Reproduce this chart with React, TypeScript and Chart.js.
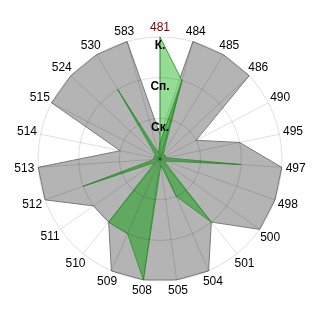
import React, { useEffect, useRef } from 'react';
import { Chart, registerables } from 'chart.js';

Chart.register(...registerables);

const categories = ['481', '484', '485', '486', '490', '495', '497', '498', '500', '501', '504', '505', '508', '509', '510', '511', '512', '513', '514', '515', '524', '530', '583'];
const greyValues = [0.6, 3, 3, 3, 1, 2, 3, 3, 3, 2, 3, 3, 3, 3, 2, 2, 3, 3, 1, 3, 3, 3, 3];
const lightValues = [3, 2, 0, 0, 0, 0, 0, 0, 0, 0, 0, 0, 0, 0, 0, 0, 0, 0, 0, 0, 0, 0, 0];
const darkValues = [0.4, 2, 0.15, 0.15, 0.15, 0.15, 2, 0.15, 0.15, 2, 1, 0.15, 3, 2, 2, 0.15, 2, 0.15, 0.15, 0.15, 0.15, 2, 0.15];
const tickValues = [0, 1, 2, 3];
const tickLabels = ['', 'Ск.', 'Сп.', 'К.'];

const FONT = "'Liberation Sans', Arial, sans-serif";
const LABEL_GAP = 4;

const centeredPointLabels = {
  id: 'centeredPointLabels',
  afterDraw(chart: any) {
    const scale = chart.scales.r;
    const ctx = chart.ctx;
    ctx.save();
    ctx.font = `12px ${FONT}`;
    ctx.textAlign = 'center';
    ctx.textBaseline = 'middle';
    categories.forEach((label, i) => {
      const w = ctx.measureText(label).width;
      const h = 12;
      const p = scale.getPointPosition(i, scale.drawingArea);
      const cx = Math.cos(p.angle);
      const cy = Math.sin(p.angle);
      const half = Math.sqrt((w / 2 * cx) ** 2 + (h / 2 * cy) ** 2);
      const q = scale.getPointPosition(i, scale.drawingArea + LABEL_GAP + half);
      ctx.fillStyle = i === 0 ? '#800000' : '#000';
      ctx.fillText(label, q.x, q.y + 0.5);
    });
    ctx.restore();
  },
};

export default function App() {
  const ref = useRef<HTMLCanvasElement | null>(null);
  useEffect(() => {
    if (!ref.current) return;
    const chart = new Chart(ref.current, {
      type: 'radar',
      data: {
        labels: categories,
        datasets: [
          {
            data: darkValues,
            backgroundColor: 'rgba(70,165,70,0.75)',
            borderColor: '#3a963a',
            borderWidth: 1,
            pointRadius: 0,
          },
          {
            data: lightValues,
            backgroundColor: 'rgba(130,215,130,0.85)',
            borderColor: '#3c9c3c',
            borderWidth: 1,
            pointRadius: 0,
          },
          {
            data: greyValues,
            backgroundColor: '#b4b4b4',
            borderColor: '#7a7a7a',
            borderWidth: 1,
            pointRadius: 0,
          },
        ],
      },
      options: {
        responsive: false,
        animation: false,
        layout: { padding: { top: 31, bottom: 33, left: 32, right: 32 } },
        plugins: { legend: { display: false }, tooltip: { enabled: false } },
        elements: { line: { tension: 0 } },
        scales: {
          r: {
            min: 0,
            max: 3,
            startAngle: 0,
            afterBuildTicks: (scale: any) => {
              scale.ticks = tickValues.map((v) => ({ value: v }));
            },
            angleLines: { color: 'rgba(0,0,0,0.13)', lineWidth: 1 },
            grid: { circular: true, color: 'rgba(0,0,0,0.13)', lineWidth: 1, z: 1 },
            pointLabels: { display: false },
            ticks: {
              z: 1,
              showLabelBackdrop: false,
              backdropPadding: 0,
              color: '#000',
              font: { size: 12, weight: 'bold', family: FONT, lineHeight: '9px' },
              callback: (value: any) => {
                const i = tickValues.indexOf(Number(value));
                return i > 0 ? ['', tickLabels[i]] : '';
              },
            },
          },
        },
      },
      plugins: [centeredPointLabels],
    });
    return () => chart.destroy();
  }, []);
  return (
    <div style={{ position: 'fixed', left: 0, top: 0, width: 320, height: 320, background: '#fff' }}>
      <canvas ref={ref} width={320} height={320} />
    </div>
  );
}
